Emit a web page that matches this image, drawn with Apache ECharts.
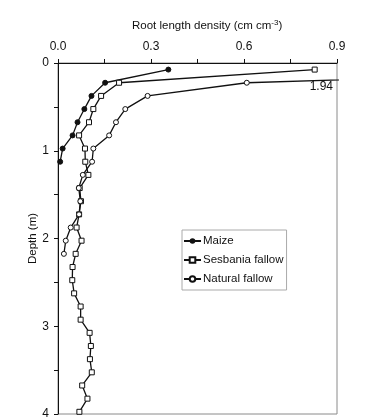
<!DOCTYPE html>
<html>
<head>
<meta charset="utf-8">
<script src="https://cdn.jsdelivr.net/npm/echarts@6/dist/echarts.min.js"></script>
<style>
html,body{margin:0;padding:0;background:#fff;}
#c{width:370px;height:420px;}
</style>
</head>
<body>
<div id="c"></div>
<script>
// Depths (m), midpoints of 15 cm layers
const depths = [0.075,0.225,0.375,0.525,0.675,0.825,0.975,1.125,1.275,1.425,1.575,1.725,1.875,2.025,2.175,2.325,2.475,2.625,2.775,2.925,3.075,3.225,3.375,3.525,3.675,3.825,3.975];
// Root length density (cm cm-3)
const maize = [0.356,0.152,0.108,0.085,0.063,0.047,0.015,0.007];
const sesbania = [0.828,0.197,0.139,0.114,0.100,0.068,0.087,0.088,0.098,0.070,0.074,0.068,0.060,0.076,0.057,0.047,0.046,0.052,0.073,0.073,0.102,0.106,0.103,0.109,0.078,0.095,0.069];
const natural = [1.94,0.609,0.289,0.217,0.187,0.165,0.114,0.110,0.080,0.067,0.072,0.068,0.041,0.025,0.019];
const seriesNames = ['Maize','Sesbania fallow','Natural fallow'];
const xTicks = [0, 0.3, 0.6, 0.9];
const yTicks = [0, 1, 2, 3, 4];

function pairs(vals){ return vals.map((v,i)=>[v, depths[i]]); }

const FONT = 'Liberation Sans, Arial, sans-serif';
const chart = echarts.init(document.getElementById('c'));
const lineStyle = {color:'#111', width:1.3};
chart.setOption({
  animation:false,
  grid:{left:58, top:63, width:279, height:351, show:true, borderColor:'#8a8a8a', borderWidth:1, backgroundColor:'transparent'},
  xAxis:{
    type:'value', position:'top', min:xTicks[0], max:xTicks[xTicks.length-1], interval:0.3,
    axisLine:{show:true, lineStyle:{color:'#111', width:1}},
    axisTick:{show:true, inside:false, length:4, lineStyle:{color:'#111'}},
    minorTick:{show:true, splitNumber:2, length:4, lineStyle:{color:'#111'}},
    splitLine:{show:false},
    axisLabel:{color:'#111', fontFamily:FONT, fontSize:12, margin:10, formatter:v=>v.toFixed(1)}
  },
  yAxis:{
    type:'value', inverse:true, min:yTicks[0], max:yTicks[yTicks.length-1], interval:1,
    name:'Depth (m)', nameLocation:'middle', nameGap:19, nameRotate:90, nameMoveOverlap:false,
    nameTextStyle:{color:'#111', fontFamily:FONT, fontSize:11.5},
    axisLine:{show:true, lineStyle:{color:'#111', width:1}},
    axisTick:{show:true, inside:false, length:4, lineStyle:{color:'#111'}},
    minorTick:{show:true, splitNumber:2, length:4, lineStyle:{color:'#111'}},
    splitLine:{show:false},
    axisLabel:{color:'#111', fontFamily:FONT, fontSize:12, margin:9}
  },
  legend:{
    orient:'vertical', left:182, top:230, itemWidth:17, itemHeight:7, itemGap:7,
    padding:[5,3,5,1], borderColor:'#aaa', borderWidth:1,
    textStyle:{color:'#111', fontFamily:FONT, fontSize:11.5, padding:[0,0,0,-3]},
    data:seriesNames
  },
  graphic:[
    {type:'text', left:132, top:19, style:{
      text:'{a|Root length density (cm cm}{s|-3}{a|)}',
      rich:{a:{fontFamily:FONT, fontSize:11.5, fill:'#111'}, s:{fontFamily:FONT, fontSize:8, fill:'#111', verticalAlign:'top', padding:[0,0,6,0]}}
    }},
    {type:'text', right:37, top:81, style:{text:natural[0].toFixed(2), fontFamily:FONT, fontSize:12, fill:'#111'}}
  ],
  series:[
    {name:seriesNames[0], type:'line', data:pairs(maize), symbol:'circle', symbolSize:5,
     lineStyle:lineStyle, itemStyle:{color:'#111', borderColor:'#111'}, clip:true},
    {name:seriesNames[1], type:'line', data:pairs(sesbania), symbol:'rect', symbolSize:5,
     lineStyle:lineStyle, itemStyle:{color:'#fff', borderColor:'#111', borderWidth:1}, clip:true},
    {name:seriesNames[2], type:'line', data:pairs(natural), symbol:'circle', symbolSize:5,
     lineStyle:lineStyle, itemStyle:{color:'#fff', borderColor:'#111', borderWidth:1}, clip:true}
  ]
});
</script>
</body>
</html>
